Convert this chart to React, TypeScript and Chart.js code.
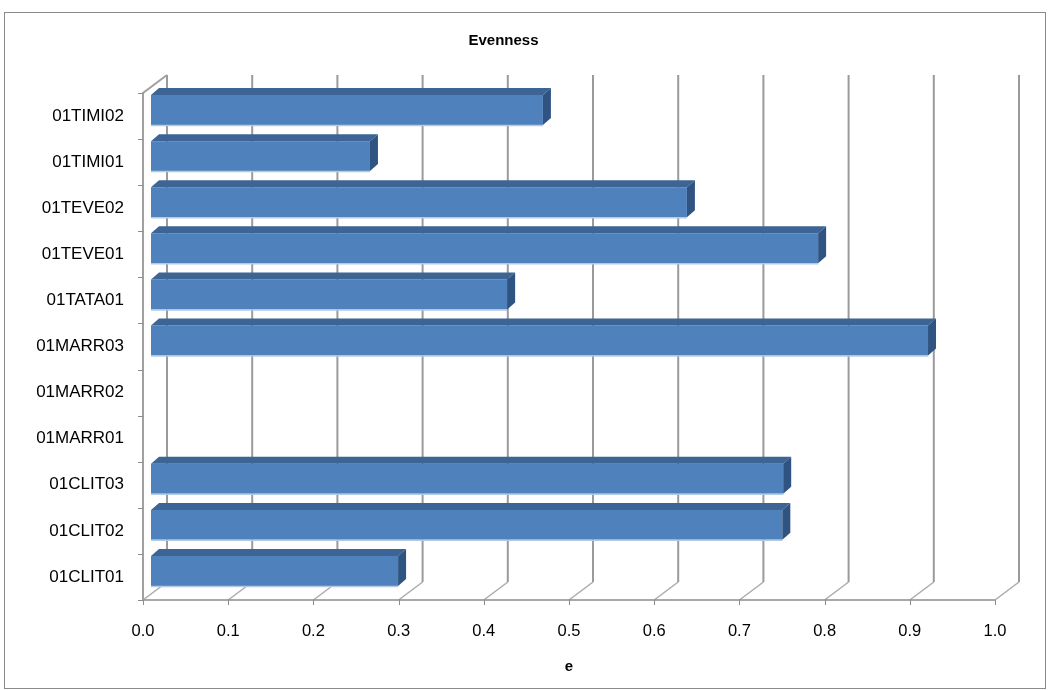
import { useEffect, useRef } from 'react';
import { Chart, registerables } from 'chart.js';

Chart.register(...registerables);

// ---- data ----
const categories = [
  '01TIMI02', '01TIMI01', '01TEVE02', '01TEVE01', '01TATA01', '01MARR03',
  '01MARR02', '01MARR01', '01CLIT03', '01CLIT02', '01CLIT01',
];
const evenness = [0.46, 0.257, 0.629, 0.783, 0.418, 0.912, 0, 0, 0.742, 0.741, 0.29];
const xTickValues = [0, 0.1, 0.2, 0.3, 0.4, 0.5, 0.6, 0.7, 0.8, 0.9, 1.0];
const xTickLabels = ['0.0', '0.1', '0.2', '0.3', '0.4', '0.5', '0.6', '0.7', '0.8', '0.9', '1.0'];
const chartTitle = 'Evenness';
const xAxisTitle = 'e';

// ---- style ----
const FONT = '"Liberation Sans", Arial, "DejaVu Sans", sans-serif';
const FRONT = { dx: -8, dy: 6 };   // front floor plane relative to bar plane
const BACK = { dx: 16, dy: -12 };  // back wall relative to bar plane
const BAR_DEPTH = { dx: 8, dy: -7 };
const GRID_COLOR = '#9a9a9a';
const FLOOR_COLOR = '#ababab';
const AXIS_COLOR = '#8c8c8c';
const BAR_FRONT = '#4f81bd';
const BAR_TOP = '#3c6495';
const BAR_SIDE = '#2f5482';
const BAR_EDGE = '#b4c9e4';

const effect3d = {
  id: 'effect3d',
  beforeDraw(chart: any) {
    const ctx = chart.ctx;
    ctx.save();
    ctx.fillStyle = '#ffffff';
    ctx.fillRect(0, 0, chart.width, chart.height);
    ctx.strokeStyle = '#8a8a8a';
    ctx.lineWidth = 1;
    ctx.strokeRect(4.5, 12.5, chart.width - 9, chart.height - 14);
    ctx.restore();
  },
  beforeDatasetsDraw(chart: any) {
    const { ctx, chartArea: a, scales } = chart;
    const x = scales.x;
    const y = scales.y;
    ctx.save();
    ctx.lineCap = 'butt';
    xTickValues.forEach((v) => {
      const px = x.getPixelForValue(v);
      ctx.strokeStyle = GRID_COLOR;
      ctx.lineWidth = 2;
      ctx.beginPath();
      ctx.moveTo(px + BACK.dx, a.top + BACK.dy);
      ctx.lineTo(px + BACK.dx, a.bottom + BACK.dy);
      ctx.stroke();
      ctx.strokeStyle = FLOOR_COLOR;
      ctx.lineWidth = 1.5;
      ctx.beginPath();
      ctx.moveTo(px + BACK.dx, a.bottom + BACK.dy);
      ctx.lineTo(px + FRONT.dx, a.bottom + FRONT.dy);
      ctx.stroke();
      ctx.strokeStyle = AXIS_COLOR;
      ctx.lineWidth = 1;
      ctx.beginPath();
      ctx.moveTo(Math.round(px + FRONT.dx) + 0.5, a.bottom + FRONT.dy);
      ctx.lineTo(Math.round(px + FRONT.dx) + 0.5, a.bottom + FRONT.dy + 5);
      ctx.stroke();
    });
    const x0 = x.getPixelForValue(0);
    const x1 = x.getPixelForValue(1);
    ctx.strokeStyle = AXIS_COLOR;
    ctx.lineWidth = 1.5;
    ctx.beginPath();
    ctx.moveTo(x0 + FRONT.dx, a.bottom + FRONT.dy);
    ctx.lineTo(x1 + FRONT.dx, a.bottom + FRONT.dy);
    ctx.stroke();
    ctx.strokeStyle = '#a0a0a0';
    ctx.lineWidth = 2;
    ctx.beginPath();
    ctx.moveTo(x0 + BACK.dx, a.top + BACK.dy);
    ctx.lineTo(x0 + FRONT.dx, a.top + FRONT.dy);
    ctx.lineTo(x0 + FRONT.dx, a.bottom + FRONT.dy);
    ctx.stroke();
    ctx.strokeStyle = AXIS_COLOR;
    ctx.lineWidth = 1;
    for (let i = 0; i <= categories.length; i++) {
      const py = Math.round(y.getPixelForValue(i - 0.5) + FRONT.dy) + 0.5;
      ctx.beginPath();
      ctx.moveTo(x0 + FRONT.dx - 5, py);
      ctx.lineTo(x0 + FRONT.dx, py);
      ctx.stroke();
    }
    ctx.restore();
  },
  afterDatasetsDraw(chart: any) {
    const ctx = chart.ctx;
    const meta = chart.getDatasetMeta(0);
    ctx.save();
    meta.data.forEach((el: any) => {
      const { x, y, base, height } = el.getProps(['x', 'y', 'base', 'height'], true);
      if (Math.abs(x - base) < 0.5) return;
      const top = y - height / 2;
      const bottom = y + height / 2;
      ctx.fillStyle = BAR_TOP;
      ctx.beginPath();
      ctx.moveTo(base, top);
      ctx.lineTo(base + BAR_DEPTH.dx, top + BAR_DEPTH.dy);
      ctx.lineTo(x + BAR_DEPTH.dx, top + BAR_DEPTH.dy);
      ctx.lineTo(x, top);
      ctx.closePath();
      ctx.fill();
      ctx.fillStyle = BAR_SIDE;
      ctx.beginPath();
      ctx.moveTo(x, top);
      ctx.lineTo(x + BAR_DEPTH.dx, top + BAR_DEPTH.dy);
      ctx.lineTo(x + BAR_DEPTH.dx, bottom + BAR_DEPTH.dy);
      ctx.lineTo(x, bottom);
      ctx.closePath();
      ctx.fill();
      ctx.strokeStyle = BAR_EDGE;
      ctx.lineWidth = 1.5;
      ctx.beginPath();
      ctx.moveTo(base, bottom + 0.5);
      ctx.lineTo(x, bottom + 0.5);
      ctx.stroke();
    });
    ctx.restore();
  },
  afterDraw(chart: any) {
    const { ctx, scales } = chart;
    const x = scales.x;
    ctx.save();
    ctx.fillStyle = '#000000';
    ctx.font = `bold 15px ${FONT}`;
    ctx.textAlign = 'center';
    ctx.textBaseline = 'middle';
    const cx = (x.getPixelForValue(0) + x.getPixelForValue(1)) / 2 + FRONT.dx;
    ctx.fillText(xAxisTitle, cx, 667);
    ctx.restore();
  },
};

export default function App() {
  const canvasRef = useRef<HTMLCanvasElement | null>(null);

  useEffect(() => {
    if (!canvasRef.current) return;
    const chart = new Chart(canvasRef.current, {
      type: 'bar',
      data: {
        labels: categories,
        datasets: [
          {
            label: chartTitle,
            data: evenness,
            backgroundColor: BAR_FRONT,
            borderWidth: 0,
            barPercentage: 0.65,
            categoryPercentage: 1,
          },
        ],
      },
      options: {
        indexAxis: 'y',
        animation: false,
        responsive: false,
        maintainAspectRatio: false,
        layout: { padding: { left: 4, right: 47, top: 0, bottom: 0 } },
        plugins: {
          legend: { display: false },
          tooltip: { enabled: false },
          title: {
            display: true,
            text: chartTitle,
            color: '#000000',
            font: { family: FONT, size: 15, weight: 'bold', lineHeight: 1.2 },
            padding: { top: 32, bottom: 37 },
          },
        },
        scales: {
          x: {
            type: 'linear',
            min: 0,
            max: 1,
            grid: { display: false, drawTicks: false },
            border: { display: false },
            afterBuildTicks: (s: any) => {
              s.ticks = xTickValues.map((v) => ({ value: v }));
            },
            afterFit: (s: any) => {
              s.height = 96;
            },
            ticks: {
              padding: 28,
              labelOffset: FRONT.dx,
              color: '#000000',
              font: { family: FONT, size: 16.5 },
              maxRotation: 0,
              autoSkip: false,
              callback: (_v: any, i: number) => xTickLabels[i],
            },
          },
          y: {
            type: 'category',
            grid: { display: false, drawTicks: false },
            border: { display: false },
            afterFit: (s: any) => {
              s.width = 147;
            },
            ticks: {
              padding: 27,
              labelOffset: FRONT.dy,
              color: '#000000',
              font: { family: FONT, size: 17 },
              autoSkip: false,
            },
          },
        },
      },
      plugins: [effect3d],
    });
    return () => chart.destroy();
  }, []);

  return (
    <div style={{ position: 'absolute', left: 0, top: 0, width: 1050, height: 690 }}>
      <canvas ref={canvasRef} width={1050} height={690} style={{ display: 'block' }} />
    </div>
  );
}
